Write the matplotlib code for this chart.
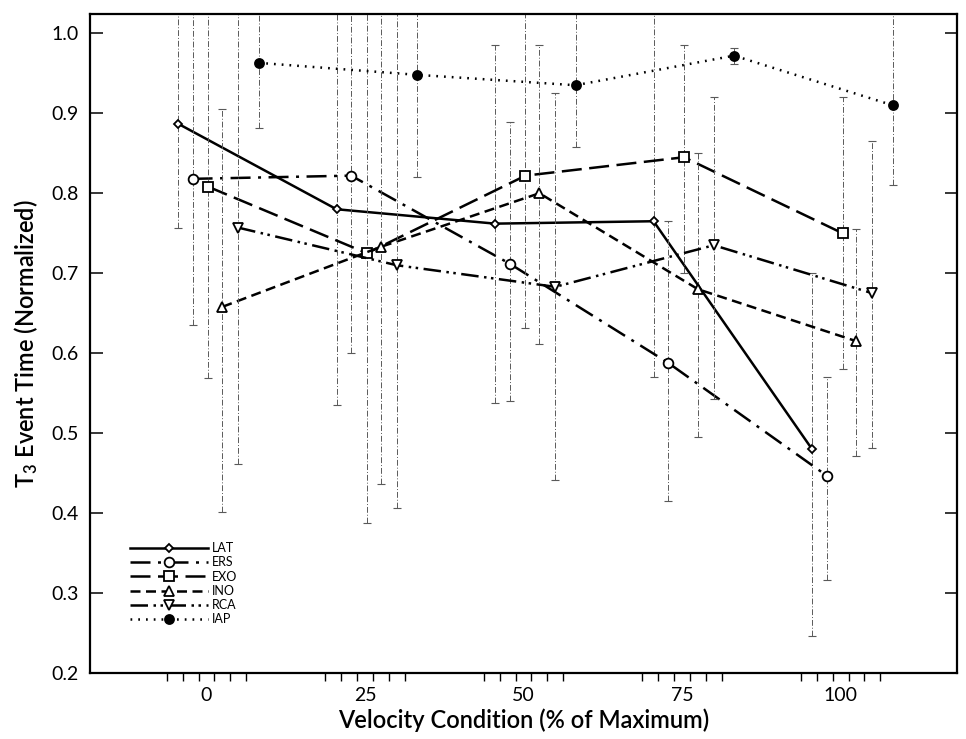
import numpy as np
import matplotlib.pyplot as plt
import matplotlib as mpl

mpl.rc('font', family=['Lato', 'DejaVu Sans'], size=13)

# velocity conditions (% of maximum)
velocity = np.array([0, 25, 50, 75, 100])
series = ['LAT', 'ERS', 'EXO', 'INO', 'RCA', 'IAP']

# T3 event time (normalized) and error bar ends
# (values above 1.0 run off the top of the frame)
lat = [0.887, 0.780, 0.762, 0.765, 0.480]
lat_lo = [0.757, 0.535, 0.538, 0.570, 0.247]
lat_hi = [1.10, 1.10, 0.985, 1.10, 0.700]

ers = [0.818, 0.822, 0.712, 0.588, 0.447]
ers_lo = [0.635, 0.600, 0.540, 0.415, 0.316]
ers_hi = [1.10, 1.10, 0.889, 0.765, 0.570]

exo = [0.808, 0.725, 0.822, 0.845, 0.750]
exo_lo = [0.569, 0.388, 0.632, 0.700, 0.580]
exo_hi = [1.10, 1.10, 1.10, 0.985, 0.920]

ino = [0.658, 0.733, 0.800, 0.680, 0.615]
ino_lo = [0.402, 0.437, 0.612, 0.495, 0.472]
ino_hi = [0.905, 1.10, 0.985, 0.850, 0.755]

rca = [0.757, 0.710, 0.683, 0.735, 0.675]
rca_lo = [0.462, 0.406, 0.442, 0.543, 0.482]
rca_hi = [1.10, 1.10, 0.925, 0.920, 0.865]

iap = [0.963, 0.948, 0.935, 0.972, 0.910]
iap_lo = [0.881, 0.820, 0.858, 0.962, 0.810]
iap_hi = [1.10, 1.10, 1.10, 0.982, 1.10]

values = {'LAT': (lat, lat_lo, lat_hi), 'ERS': (ers, ers_lo, ers_hi),
          'EXO': (exo, exo_lo, exo_hi), 'INO': (ino, ino_lo, ino_hi),
          'RCA': (rca, rca_lo, rca_hi), 'IAP': (iap, iap_lo, iap_hi)}

# horizontal stagger of each series inside a velocity group
offset = {'LAT': -4.5, 'ERS': -2.2, 'EXO': 0.3, 'INO': 2.5, 'RCA': 5.0, 'IAP': 8.2}
tick_offset = [-6.25, -3.75, -1.25, 1.25, 3.75, 6.25]

style = {
    'LAT': dict(ls='-', marker='D', ms=4.5, mfc='white'),
    'ERS': dict(ls=(0, (8, 3, 1.2, 3)), marker='o', ms=7.0, mfc='white'),
    'EXO': dict(ls=(0, (8, 3)), marker='s', ms=6.5, mfc='white'),
    'INO': dict(ls=(0, (4, 2.2)), marker='^', ms=7.0, mfc='white'),
    'RCA': dict(ls=(0, (7, 2.2, 1, 1.8, 1, 2.2)), marker='v', ms=7.0, mfc='white'),
    'IAP': dict(ls=(0, (0.7, 2.4)), marker='o', ms=6.5, mfc='black'),
}

fig = plt.figure(figsize=[9.66, 7.39], dpi=100)
ax = fig.add_axes([0.093, 0.089, 0.898, 0.892])

for s in series:
    y, lo, hi = [np.array(v) for v in values[s]]
    x = velocity + offset[s]
    eb = ax.errorbar(x, y, yerr=[y - lo, hi - y], fmt='none', ecolor='0.35',
                     elinewidth=0.7, capsize=3, capthick=0.8)
    eb[2][0].set_linestyle((0, (6, 2, 1, 2)))
    ax.plot(x, y, color='black', lw=1.8, mec='black', mew=1.3, label=s,
            **style[s])

ax.set_xlim(-18.4, 118.4)
ax.set_ylim(0.2, 1.024)

ax.set_xticks(velocity)
ax.set_xticklabels(['0', '25', '50', '75', '100'], fontsize=14)
ax.tick_params(axis='x', which='major', length=0, pad=10)
ax.set_xticks([v + t for v in velocity for t in tick_offset], minor=True)
ax.tick_params(axis='x', which='minor', direction='out', length=6, width=1.0)

ax.set_yticks(np.arange(0.2, 1.01, 0.1))
ax.set_yticklabels([f'{v:.1f}' for v in np.arange(0.2, 1.01, 0.1)], fontsize=14)
ax.tick_params(axis='y', direction='in', length=9, width=1.1, pad=8,
               left=True, right=True)

for sp in ax.spines.values():
    sp.set_linewidth(1.6)

ax.set_xlabel('Velocity Condition (% of Maximum)', fontsize=17,
              fontweight='semibold', labelpad=3)
ax.set_ylabel(r'$\mathregular{T_3}$ Event Time (Normalized)', fontsize=17,
              fontweight='semibold', labelpad=8)

ax.legend(loc='lower left', bbox_to_anchor=(0.04, 0.065), frameon=False,
          fontsize=9, handlelength=6.3, labelspacing=0.18, handletextpad=0.3,
          borderaxespad=0)

fig.savefig('out.png', dpi=100)
